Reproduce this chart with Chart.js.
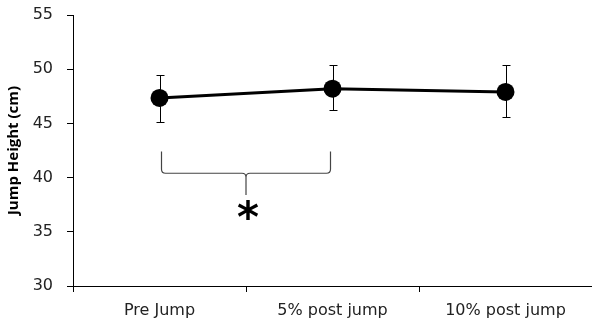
<!DOCTYPE html>
<html>
<head>
<meta charset="utf-8">
<style>
  html, body { margin: 0; padding: 0; background: #fff; }
  #wrap { width: 592px; height: 320px; }
</style>
</head>
<body>
<div id="wrap"><canvas id="myChart"></canvas></div>
<script src="https://cdn.jsdelivr.net/npm/chart.js@4/dist/chart.umd.min.js"></script>
<script>
var categories = ['Pre Jump', '5% post jump', '10% post jump'];
var jumpHeight = [47.35, 48.2, 47.9];
var errUpper = [49.5, 50.35, 50.35];
var errLower = [45.15, 46.2, 45.55];
var yTicks = [30, 35, 40, 45, 50, 55];

// significance brace between first two groups (values in axis units)
var braceFrom = 0, braceTo = 1;
var braceTop = 42.4, braceMid = 40.4, braceTip = 38.4, starAt = 36.6;

var errorBars = {
  id: 'errorBars',
  afterDatasetsDraw: function(chart) {
    var ctx = chart.ctx, x = chart.scales.x, y = chart.scales.y;
    ctx.save();
    ctx.strokeStyle = '#000';
    ctx.lineWidth = 1;
    for (var i = 0; i < categories.length; i++) {
      var px = Math.round(x.getPixelForValue(i)) + 0.5;
      var top = Math.round(y.getPixelForValue(errUpper[i])) + 0.5;
      var bot = Math.round(y.getPixelForValue(errLower[i])) + 0.5;
      ctx.beginPath();
      ctx.moveTo(px, top); ctx.lineTo(px, bot);
      ctx.moveTo(px - 4, top); ctx.lineTo(px + 4, top);
      ctx.moveTo(px - 4, bot); ctx.lineTo(px + 4, bot);
      ctx.stroke();
    }
    // brace
    var x1 = x.getPixelForValue(braceFrom) + 2;
    var x2 = x.getPixelForValue(braceTo) - 2;
    var xm = (x1 + x2) / 2;
    var yt = y.getPixelForValue(braceTop);
    var ym = y.getPixelForValue(braceMid);
    var yb = y.getPixelForValue(braceTip);
    var r = 4;
    ctx.strokeStyle = '#444';
    ctx.lineWidth = 1.2;
    ctx.beginPath();
    ctx.moveTo(x1, yt);
    ctx.lineTo(x1, ym - r);
    ctx.quadraticCurveTo(x1, ym, x1 + r, ym);
    ctx.lineTo(xm - r, ym);
    ctx.quadraticCurveTo(xm, ym, xm, ym + r);
    ctx.lineTo(xm, yb);
    ctx.moveTo(xm, ym + r);
    ctx.quadraticCurveTo(xm, ym, xm + r, ym);
    ctx.lineTo(x2 - r, ym);
    ctx.quadraticCurveTo(x2, ym, x2, ym - r);
    ctx.lineTo(x2, yt);
    ctx.stroke();
    // asterisk
    ctx.fillStyle = '#000';
    ctx.font = 'bold 42px "DejaVu Sans"';
    ctx.textAlign = 'center';
    ctx.textBaseline = 'middle';
    ctx.fillText('*', xm + 2, y.getPixelForValue(starAt) + 7);
    ctx.restore();
  }
};

new Chart(document.getElementById('myChart').getContext('2d'), {
  type: 'line',
  data: {
    labels: categories,
    datasets: [{
      data: jumpHeight,
      borderColor: '#000',
      backgroundColor: '#000',
      borderWidth: 3,
      pointRadius: 9,
      pointHoverRadius: 9,
      pointBackgroundColor: '#000',
      pointBorderWidth: 0,
      tension: 0
    }]
  },
  options: {
    responsive: true,
    maintainAspectRatio: false,
    animation: false,
    events: [],
    layout: { autoPadding: false, padding: { top: 15, right: 0, left: 0, bottom: 0 } },
    plugins: { legend: { display: false }, tooltip: { enabled: false } },
    scales: {
      x: {
        offset: true,
        grid: { drawOnChartArea: false, drawTicks: true, tickLength: 6, offset: true, color: '#000' },
        border: { color: '#000', width: 1 },
        ticks: { color: '#222', font: { family: 'DejaVu Sans', size: 16 }, padding: 9, maxRotation: 0 },
        afterFit: function(s) { s.height = 34; s.paddingLeft = 0; s.paddingRight = 0; }
      },
      y: {
        min: 30,
        max: 55,
        afterBuildTicks: function(s) { s.ticks = yTicks.map(function(v) { return { value: v }; }); },
        grid: { drawOnChartArea: false, drawTicks: true, tickLength: 6, color: '#000' },
        border: { color: '#000', width: 1 },
        ticks: { color: '#222', font: { family: 'DejaVu Sans', size: 16 }, padding: 14 },
        title: { display: true, text: 'Jump Height (cm)', color: '#000', font: { family: 'Open Sans', size: 15, weight: 'bold' }, padding: { top: 5, bottom: 0 } },
        afterFit: function(s) { s.width = 73; s.paddingTop = 0; s.paddingBottom = 0; }
      }
    }
  },
  plugins: [errorBars]
});
</script>
</body>
</html>
